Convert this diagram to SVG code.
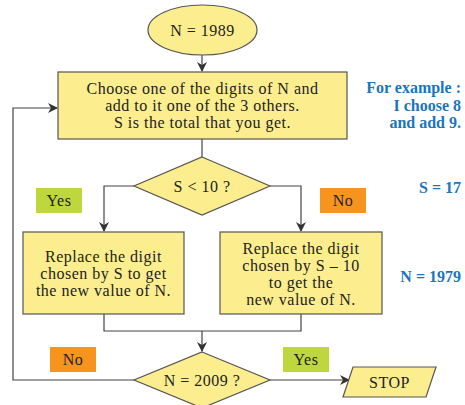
<svg xmlns="http://www.w3.org/2000/svg" width="465" height="405" viewBox="0 0 465 405">
<defs>
<marker id="ah" markerWidth="10" markerHeight="10" refX="9" refY="5" orient="auto" markerUnits="userSpaceOnUse">
<path d="M0,0 L10,5 L0,10 L3,5 z" fill="#333"/>
</marker>
<style>
.shape{fill:#fcee8e;stroke:#555;stroke-width:1.2}
.t{font-family:"Liberation Serif","Times New Roman",serif;font-size:16px;letter-spacing:0.5px;fill:#222;text-anchor:middle}
.b{font-family:"Liberation Serif","Times New Roman",serif;font-size:16px;font-weight:bold;fill:#1b75bc;text-anchor:end}
.line{fill:none;stroke:#444;stroke-width:1.2}
.yes{fill:#bed73c}
.no{fill:#f7941d}
</style>
</defs>
<rect width="465" height="405" fill="#fff"/>
<g id="connectors">
<path class="line" d="M202,55 V71" marker-end="url(#ah)"/>
<path class="line" d="M202,139 V157"/>
<path class="line" d="M134,186 H104 V231" marker-end="url(#ah)"/>
<path class="line" d="M270,186 H301 V231" marker-end="url(#ah)"/>
<path class="line" d="M104,314 V331 H301 V314"/>
<path class="line" d="M202,331 V351" marker-end="url(#ah)"/>
<path class="line" d="M134,380 H13 V108 H57" marker-end="url(#ah)"/>
<path class="line" d="M270,380 H349" marker-end="url(#ah)"/>
</g>
<g id="start">
<ellipse class="shape" cx="202.5" cy="30" rx="54.5" ry="25"/>
<text class="t" x="202.5" y="36">N = 1989</text>
</g>
<g id="choose">
<rect class="shape" x="58" y="72" width="289" height="67"/>
<text class="t" x="202.5" y="94">Choose one of the digits of N and</text>
<text class="t" x="202.5" y="111">add to it one of the 3 others.</text>
<text class="t" x="202.5" y="128">S is the total that you get.</text>
</g>
<g id="test1">
<polygon class="shape" points="202,157 270,186 202,215 134,186"/>
<text class="t" x="202" y="192">S &lt; 10 ?</text>
</g>
<g id="yes1">
<rect class="yes" x="36" y="188" width="46" height="25"/>
<text class="t" x="59" y="206">Yes</text>
</g>
<g id="no1">
<rect class="no" x="320" y="188" width="46" height="25"/>
<text class="t" x="343" y="206">No</text>
</g>
<g id="replaceS">
<rect class="shape" x="23" y="232" width="161" height="82"/>
<text class="t" x="103.5" y="262">Replace the digit</text>
<text class="t" x="103.5" y="279">chosen by S to get</text>
<text class="t" x="103.5" y="296">the new value of N.</text>
</g>
<g id="replaceS10">
<rect class="shape" x="220" y="232" width="162" height="82"/>
<text class="t" x="301" y="254">Replace the digit</text>
<text class="t" x="301" y="271">chosen by S – 10</text>
<text class="t" x="301" y="288">to get the</text>
<text class="t" x="301" y="305">new value of N.</text>
</g>
<g id="test2">
<polygon class="shape" points="202,352 270,380 202,408 134,380"/>
<text class="t" x="202" y="386">N = 2009 ?</text>
</g>
<g id="no2">
<rect class="no" x="50" y="347" width="46" height="25"/>
<text class="t" x="73" y="365">No</text>
</g>
<g id="yes2">
<rect class="yes" x="283" y="347" width="46" height="25"/>
<text class="t" x="306" y="365">Yes</text>
</g>
<g id="stop">
<polygon class="shape" points="353,367 436,367 426,397 343,397"/>
<text class="t" x="389.5" y="388">STOP</text>
</g>
<g id="notes">
<text class="b" x="461" y="93">For example :</text>
<text class="b" x="461" y="111">I choose 8</text>
<text class="b" x="461" y="128">and add 9.</text>
<text class="b" x="461" y="193">S = 17</text>
<text class="b" x="461" y="282">N = 1979</text>
</g>
</svg>
